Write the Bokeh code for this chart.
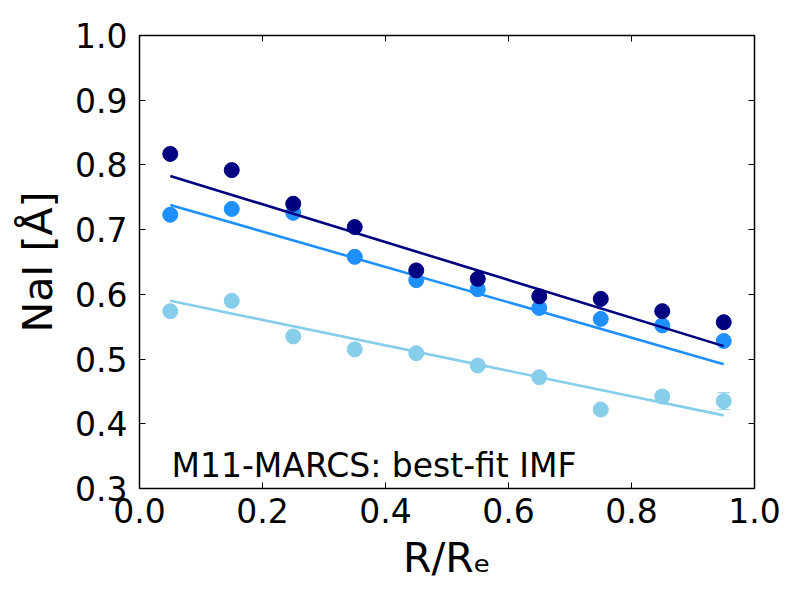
from bokeh.plotting import figure
from bokeh.models import LinearAxis, FixedTicker, PrintfTickFormatter, Range1d
from bokeh.embed import file_html
from bokeh.resources import INLINE
from bokeh.core.properties import value

# data
radius = [0.05, 0.15, 0.25, 0.35, 0.45, 0.55, 0.65, 0.75, 0.85, 0.95]
nai_dark = [0.817, 0.792, 0.740, 0.704, 0.637, 0.624, 0.597, 0.593, 0.574, 0.557]
nai_mid = [0.723, 0.732, 0.726, 0.658, 0.622, 0.608, 0.579, 0.562, 0.552, 0.528]
nai_light = [0.574, 0.590, 0.535, 0.515, 0.509, 0.490, 0.472, 0.422, 0.442, 0.435]
err_dark = [0.005, 0.005, 0.005, 0.005, 0.005, 0.005, 0.005, 0.005, 0.006, 0.007]
err_mid = [0.005, 0.005, 0.005, 0.005, 0.005, 0.005, 0.005, 0.005, 0.006, 0.007]
err_light = [0.005, 0.005, 0.005, 0.005, 0.005, 0.005, 0.006, 0.007, 0.008, 0.013]
fit_x = [0.05, 0.95]
fit_dark = [0.783, 0.520]
fit_mid = [0.738, 0.492]
fit_light = [0.590, 0.413]
x_ticks = [0.0, 0.2, 0.4, 0.6, 0.8, 1.0]
y_ticks = [0.3, 0.4, 0.5, 0.6, 0.7, 0.8, 0.9, 1.0]

colors = ["#000080", "#1E90FF", "#87CEEB"]
FONT = "DejaVu Sans"

p = figure(frame_width=615, frame_height=453, min_border_left=139, min_border_right=38,
           min_border_top=35, min_border_bottom=104,
           x_range=Range1d(0, 1), y_range=Range1d(0.3, 1.0),
           output_backend="svg", toolbar_location=None)
p.grid.visible = False
p.outline_line_color = "black"
p.outline_line_width = 1.5
p.background_fill_color = "white"
p.border_fill_color = "white"

for ys, es, fy, c in [(nai_light, err_light, fit_light, colors[2]),
                      (nai_mid, err_mid, fit_mid, colors[1]),
                      (nai_dark, err_dark, fit_dark, colors[0])]:
    lo = [y - e for y, e in zip(ys, es)]
    hi = [y + e for y, e in zip(ys, es)]
    p.segment(x0=radius, y0=lo, x1=radius, y1=hi, line_color=c, line_width=1)
    xl = [x - 0.01 for x in radius]
    xr = [x + 0.01 for x in radius]
    p.segment(x0=xl, y0=hi, x1=xr, y1=hi, line_color=c, line_width=1)
    p.segment(x0=xl, y0=lo, x1=xr, y1=lo, line_color=c, line_width=1)
    p.line(fit_x, fy, line_color=c, line_width=2.6)
    p.scatter(radius, ys, size=15, fill_color=c, line_color=c)

p.text(x=[0.052], y=[0.335], text=["M11-MARCS: best-fit IMF"], text_font=value(FONT),
       text_font_size="33px", text_color="black", text_baseline="alphabetic", text_align="left")

def style(ax, labels=True):
    ax.major_tick_in = 6
    ax.major_tick_out = 0
    ax.minor_tick_in = 0
    ax.minor_tick_out = 0
    ax.axis_line_color = None
    ax.major_tick_line_color = "black"
    ax.major_tick_line_width = 1
    ax.major_label_text_font = FONT
    ax.major_label_text_font_size = "33px"
    ax.major_label_text_color = "black"
    ax.axis_label_text_font = FONT
    ax.axis_label_text_font_size = "41px"
    ax.axis_label_text_font_style = "normal"
    ax.axis_label_text_color = "black"
    if not labels:
        ax.major_label_text_font_size = "0px"
        ax.major_label_text_color = None

xa = p.xaxis[0]
xa.ticker = FixedTicker(ticks=x_ticks)
xa.formatter = PrintfTickFormatter(format="%.1f")
xa.axis_label = "R/Rₑ"
xa.major_label_standoff = 9
xa.axis_label_standoff = 8
style(xa)

ya = p.yaxis[0]
ya.ticker = FixedTicker(ticks=y_ticks)
ya.formatter = PrintfTickFormatter(format="%.1f")
ya.axis_label = "NaI [Å]"
ya.major_label_standoff = 12
ya.axis_label_standoff = 10
style(ya)

top = LinearAxis(ticker=FixedTicker(ticks=x_ticks))
style(top, labels=False)
p.add_layout(top, "above")
right = LinearAxis(ticker=FixedTicker(ticks=y_ticks))
style(right, labels=False)
p.add_layout(right, "right")

open("out.html", "w").write(file_html(p, INLINE))
